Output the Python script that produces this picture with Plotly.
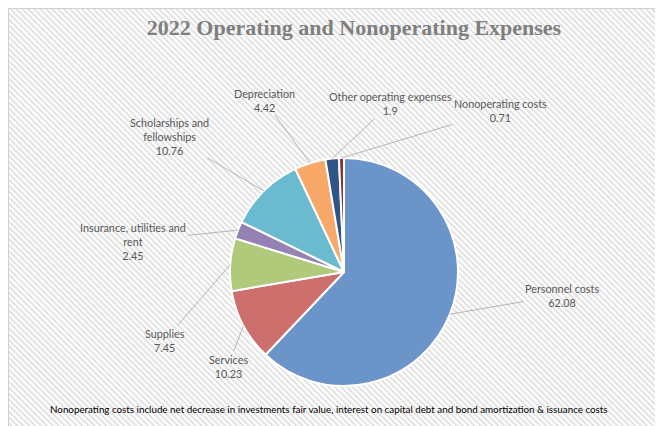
import base64
import math
import plotly.graph_objects as go

# Dados do gráfico
categorias = ['Personnel costs', 'Services', 'Supplies', 'Insurance, utilities and rent',
              'Scholarships and fellowships', 'Depreciation', 'Other operating expenses',
              'Nonoperating costs']
rotulos = ['Personnel costs', 'Services', 'Supplies', 'Insurance, utilities and<br>rent',
           'Scholarships and<br>fellowships', 'Depreciation', 'Other operating expenses',
           'Nonoperating costs']
valores = [62.08, 10.23, 7.45, 2.45, 10.76, 4.42, 1.9, 0.71]
cores = ['#6B94C9', '#CD6F6C', '#B0C97A', '#9581B3', '#6ABBD0', '#F8A96A', '#2F5586', '#8A3431']

# a página tem margem de 8px no body
OFF = 8
W, H = 663 - OFF, 426 - OFF
cx, cy, r = 344 - OFF, 272 - OFF, 114


def px(x):
    return (x - OFF) / W


def py(y):
    return 1 - (y - OFF) / H


# posição central (px da página) de cada rótulo
pos_rotulos = [(562, 295), (228, 366), (165, 340), (133, 241),
               (170, 136), (264, 100), (390, 104), (500, 110)]

fig = go.Figure(go.Pie(
    labels=categorias,
    values=valores,
    sort=False,
    direction='clockwise',
    rotation=0,
    textinfo='none',
    hoverinfo='label+value',
    marker=dict(colors=cores, line=dict(color='white', width=2)),
    domain=dict(x=[(cx - r) / W, (cx + r) / W], y=[(H - cy - r) / H, (H - cy + r) / H]),
    showlegend=False,
))

# Rótulos com linhas de chamada
total = sum(valores)
acum = 0
for nome, v, (lx, ly) in zip(rotulos, valores, pos_rotulos):
    meio = (acum + v / 2) / total * 2 * math.pi
    acum += v
    ex = cx + OFF + r * math.sin(meio)
    ey = cy + OFF - r * math.cos(meio)
    fig.add_annotation(
        x=px(ex), y=py(ey), xref='paper', yref='paper',
        text=f'{nome}<br>{v}',
        showarrow=True, arrowhead=0, arrowwidth=0.8, arrowcolor='#A6A6A6', standoff=0,
        ax=lx - ex, ay=ly - ey,
        font=dict(family='Lato', size=10.8, color='#595959'),
    )

# Nota de rodapé
fig.add_annotation(
    x=px(329), y=py(417), xref='paper', yref='paper', showarrow=False,
    text='Nonoperating costs include net decrease in investments fair value, interest on capital debt and bond amortization & issuance costs',
    font=dict(family='Lato', size=9.8, color='#000000'),
)

# Fundo listrado
svg = ("<svg xmlns='http://www.w3.org/2000/svg' width='660' height='420'><defs>"
       "<pattern id='p' width='4.2' height='4.2' patternUnits='userSpaceOnUse' patternTransform='rotate(-45)'>"
       "<rect width='4.2' height='4.2' fill='#FFFFFF'/><rect width='2' height='4.2' fill='#E2E2E2'/></pattern></defs>"
       "<rect width='100%' height='100%' fill='url(#p)'/></svg>")
fig.add_layout_image(
    source='data:image/svg+xml;base64,' + base64.b64encode(svg.encode()).decode(),
    xref='paper', yref='paper', x=0, y=1, sizex=660 / W, sizey=420 / H,
    xanchor='left', yanchor='top', sizing='stretch', layer='below',
)
# borda da área do gráfico
fig.add_shape(type='rect', xref='paper', yref='paper', x0=0.0008, y0=-0.02, x1=1.02, y1=0.9988,
              line=dict(color='#D0D0D0', width=1), layer='below')

fig.update_layout(
    title=dict(text='<b>2022 Operating and Nonoperating Expenses</b>', x=px(354), y=py(27),
               xanchor='center', yanchor='middle',
               font=dict(family='Liberation Serif', size=22, color='#7F7F7F')),
    width=W, height=H,
    margin=dict(l=0, r=0, t=0, b=0),
    paper_bgcolor='white',
)

fig.write_html('out.html')
